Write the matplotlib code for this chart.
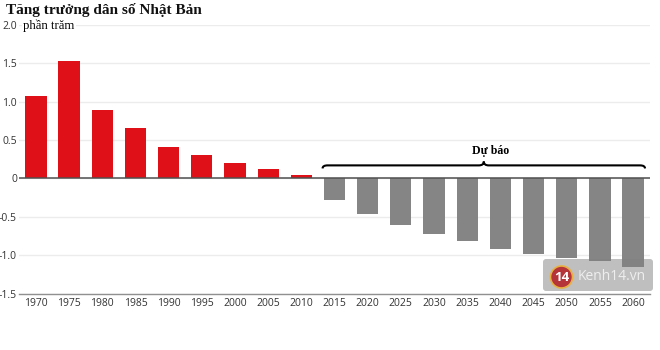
# coding=utf-8
import matplotlib
matplotlib.use('Agg')
import numpy as np
from matplotlib import pyplot as plt
from matplotlib.patches import Circle, FancyBboxPatch, PathPatch
from matplotlib.path import Path

years = [1970, 1975, 1980, 1985, 1990, 1995, 2000, 2005, 2010,
         2015, 2020, 2025, 2030, 2035, 2040, 2045, 2050, 2055, 2060]
past_growth = [1.07, 1.53, 0.89, 0.66, 0.41, 0.30, 0.20, 0.12, 0.05]
forecast_growth = [-0.28, -0.47, -0.61, -0.72, -0.82, -0.92, -0.99, -1.04, -1.07, -1.15]
y_ticks = [2.0, 1.5, 1.0, 0.5, 0, -0.5, -1.0, -1.5]
y_labels = ['2.0', '1.5', '1.0', '0.5', '0', '-0.5', '-1.0', '-1.5']

W, H = 660, 350
SERIF = 'Liberation Serif'
SANS = 'Open Sans'

fig = plt.figure(figsize=(W / 100, H / 100), dpi=100)
ax = fig.add_axes([19 / W, 1 - 293.5 / H, (650 - 19) / W, (293.5 - 25) / H])

x = np.arange(len(years))
n_past = len(past_growth)
ax.bar(x[:n_past], past_growth, width=0.64, color='#e01018', zorder=2)
ax.bar(x[n_past:], forecast_growth, width=0.64, color='#858585', zorder=2)

ax.set_xlim(-0.51, 18.51)
ax.set_ylim(-1.5, 2.0)
ax.set_yticks(y_ticks)
ax.set_yticklabels(y_labels, fontsize=7.5, family=SANS, color='#333333')
ax.set_xticks(x)
ax.set_xticklabels(years, fontsize=7.5, family=SANS, color='#333333')
ax.tick_params(length=0, pad=3)
ax.tick_params(axis='y', pad=1.5)
ax.grid(axis='y', color='#ececec', lw=1, zorder=0)
for s in ['top', 'right', 'left']:
    ax.spines[s].set_visible(False)
ax.spines['bottom'].set_color('#909090')
ax.spines['bottom'].set_linewidth(1.0)
ax.axhline(0, color='#505050', lw=1.1, zorder=3)

# forecast brace
x0, x1 = 9 - 0.36, 18 + 0.36
xm = (x0 + x1) / 2
yb, yt, yp = 0.13, 0.17, 0.22
dx = 0.15
verts = [(x0, yb), (x0, yt), (x0 + dx, yt), (xm - dx, yt), (xm, yt), (xm, yp),
         (xm, yt), (xm + dx, yt), (x1 - dx, yt), (x1, yt), (x1, yb)]
codes = [Path.MOVETO, Path.CURVE3, Path.CURVE3, Path.LINETO, Path.CURVE3, Path.CURVE3,
         Path.CURVE3, Path.CURVE3, Path.LINETO, Path.CURVE3, Path.CURVE3]
ax.add_patch(PathPatch(Path(verts, codes), fc='none', ec='black', lw=1.5, zorder=4))
ax.text(xm + 0.2, 0.275, 'Dự báo', ha='center', va='bottom', fontsize=8.5,
        family=SERIF, weight='bold', color='black')

fig.text(6 / W, 1 - 14 / H, 'Tăng trưởng dân số Nhật Bản', ha='left', va='baseline',
         fontsize=11, family=SERIF, weight='bold', color='#111111')
fig.text(23 / W, 1 - 29 / H, 'phần trăm', ha='left', va='baseline',
         fontsize=9.2, family=SERIF, color='black', zorder=5,
         bbox=dict(fc='white', ec='none', pad=1))

# watermark, in pixel coordinates of the figure
over = fig.add_axes([0, 0, 1, 1], facecolor='none')
over.set_xlim(0, W)
over.set_ylim(H, 0)
over.axis('off')
over.add_patch(FancyBboxPatch((545, 261), 106, 28, boxstyle='round,pad=2,rounding_size=3',
                              fc='#808080', ec='none', alpha=0.5))
over.add_patch(Circle((561.5, 277), 11, fc='#b5343a', ec='#e8b040', lw=1.2))
over.text(561.5, 277.5, '14', ha='center', va='center', fontsize=9.5, family=SANS,
          weight='bold', color='white')
over.text(578, 276, 'Kenh14.vn', ha='left', va='center', fontsize=10, family=SANS,
          color='#eeeeee')

fig.savefig('out.png', dpi=100)
